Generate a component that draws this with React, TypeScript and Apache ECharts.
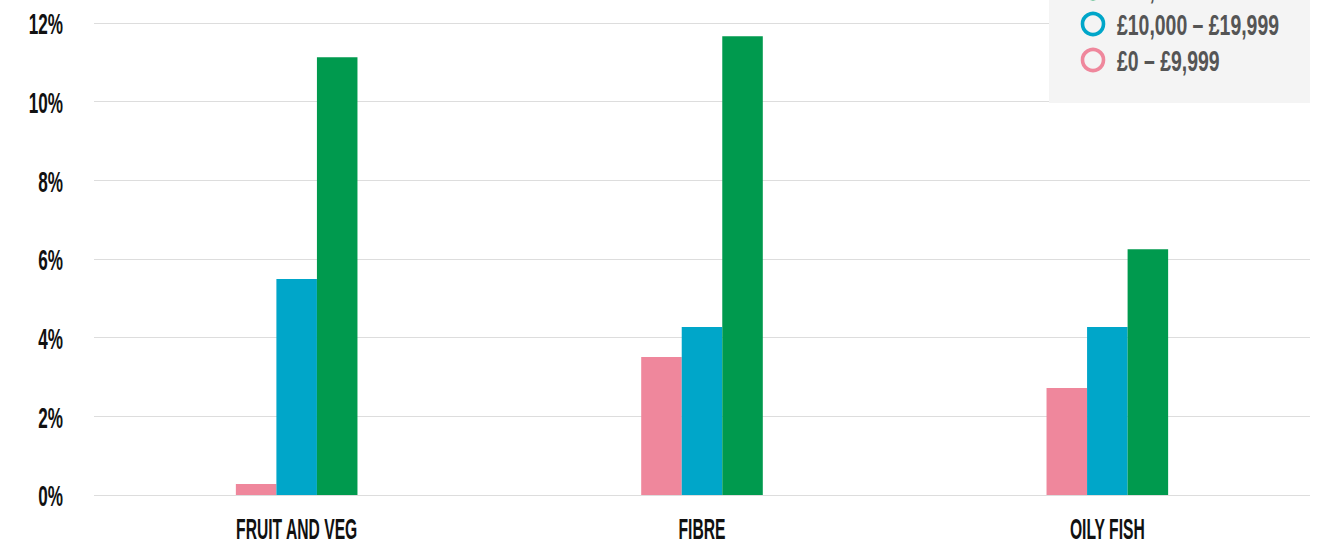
import React, { useEffect, useRef } from "react";
import * as echarts from "echarts";

// Share of people meeting each dietary guideline, by household income band
const categories = ["FRUIT AND VEG", "FIBRE", "OILY FISH"];
const bandNames = ["£0 – £9,999", "£10,000 – £19,999", "£20,000+"];
const lowIncome = [0.28, 3.51, 2.72];
const midIncome = [5.49, 4.27, 4.27];
const highIncome = [11.13, 11.66, 6.25];
const yTicks = [0, 2, 4, 6, 8, 10, 12];

const colors = ["#ef879c", "#00a6c9", "#009a4e"];
const FONT = '"Liberation Sans", Arial, sans-serif';

// The chart sits slightly above the page top, so the first legend entry is clipped
const OFFSET = 60;

// Narrow, tall lettering: bold text squeezed horizontally
const condensed = (
  text: string,
  x: number,
  y: number,
  size: number,
  squeeze: number,
  color: string,
  align: "left" | "center" | "right"
) => ({
  type: "text",
  x,
  y,
  scaleX: squeeze,
  silent: true,
  style: {
    text,
    fill: color,
    font: `bold ${size}px ${FONT}`,
    align,
    verticalAlign: "middle",
  },
});

export default function App() {
  const ref = useRef<HTMLDivElement>(null);

  useEffect(() => {
    if (!ref.current) return;
    const chart = echarts.init(ref.current, null, { renderer: "svg" });
    const seriesValues = [lowIncome, midIncome, highIncome];

    chart.setOption({
      animation: false,
      backgroundColor: "#ffffff",
      grid: {
        left: 94,
        right: 16,
        top: 23 + OFFSET,
        bottom: 546 - 495,
        containLabel: false,
      },
      xAxis: {
        type: "category",
        data: categories,
        axisLine: { show: false },
        axisTick: { show: false },
        axisLabel: { show: false },
      },
      yAxis: {
        type: "value",
        min: yTicks[0],
        max: yTicks[yTicks.length - 1],
        interval: 2,
        axisLine: { show: false },
        axisTick: { show: false },
        axisLabel: { show: false },
        splitLine: { lineStyle: { color: "#dddddd", width: 1 } },
      },
      series: seriesValues.map((vals, i) => ({
        name: bandNames[i],
        type: "bar",
        data: vals,
        barWidth: "10%",
        barGap: "0%",
        itemStyle: { color: colors[i] },
      })),
    });

    // Axis labels placed through the axes' own scales
    const xLabels = categories.map((c) => {
      const px = chart.convertToPixel({ xAxisIndex: 0 }, c) as number;
      const base = chart.convertToPixel({ yAxisIndex: 0 }, 0) as number;
      return condensed(c, px, base + 34, 29, 0.54, "#111111", "center");
    });
    const yLabels = yTicks.map((t) => {
      const py = chart.convertToPixel({ yAxisIndex: 0 }, t) as number;
      return condensed(`${t}%`, 63, py + 1, 29, 0.59, "#111111", "right");
    });

    // Legend panel, highest band first
    const legendLeft = 1049;
    const legendTop = OFFSET - 55;
    const legendItems = [2, 1, 0].flatMap((s, k) => {
      const cy = legendTop + 43 + k * 36;
      return [
        {
          type: "circle",
          silent: true,
          shape: { cx: legendLeft + 44, cy, r: 10.5 },
          style: { fill: "#f4f4f4", stroke: colors[s], lineWidth: 3.6 },
        },
        condensed(bandNames[s], legendLeft + 68, cy + 1, 29, 0.67, "#555555", "left"),
      ];
    });

    chart.setOption({
      graphic: [
        ...xLabels,
        ...yLabels,
        {
          type: "rect",
          silent: true,
          shape: { x: legendLeft, y: legendTop, width: 261, height: 158 },
          style: { fill: "#f4f4f4" },
        },
        ...legendItems,
      ],
    });

    return () => chart.dispose();
  }, []);

  return (
    <div
      ref={ref}
      style={{
        position: "absolute",
        left: 0,
        top: -OFFSET,
        width: 1326,
        height: 546 + OFFSET,
      }}
    />
  );
}
